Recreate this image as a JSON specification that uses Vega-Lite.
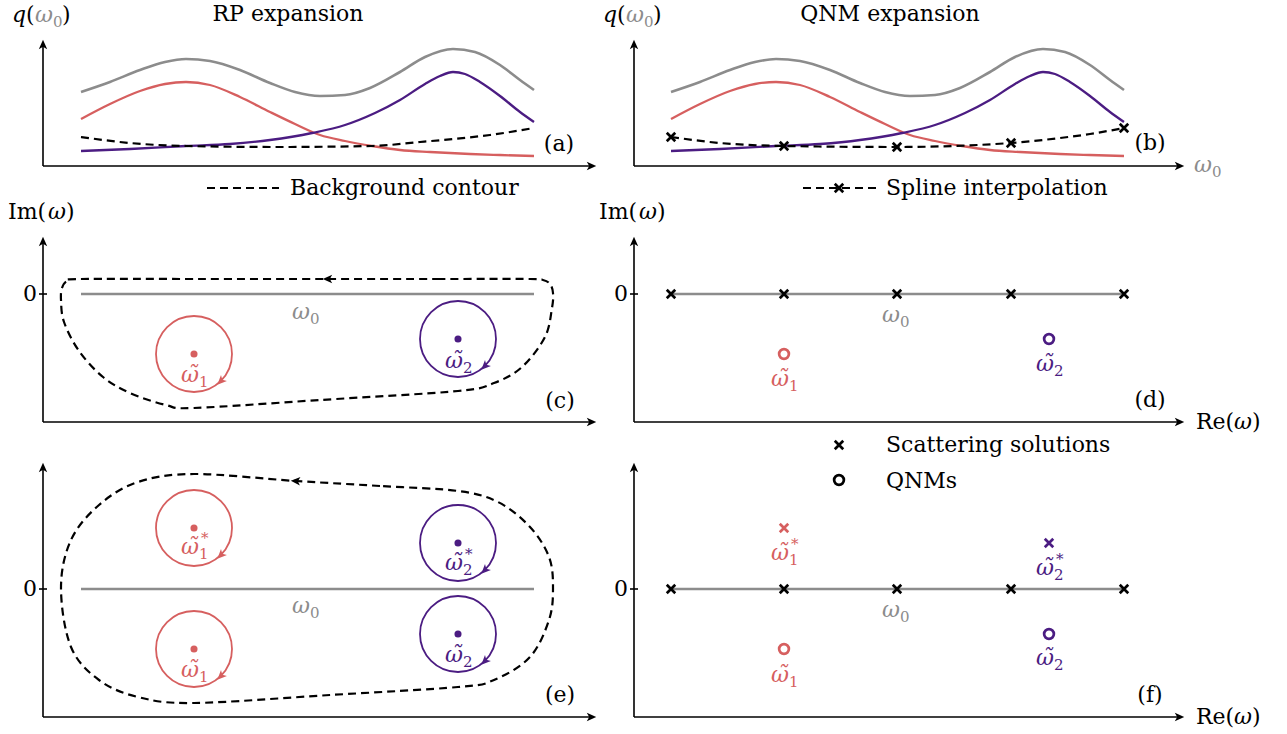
{
  "$schema": "https://vega.github.io/schema/vega-lite/v6.json",
  "width": 1287,
  "height": 734,
  "autosize": {"type": "fit", "contains": "padding"},
  "padding": 0,
  "background": "white",
  "config": {"view": {"stroke": null}, "text": {"font": "DejaVu Serif"}},
  "datasets": {
    "curves": [
      {"p":"a","s":"q","x":81,"y":92},{"p":"a","s":"q","x":110,"y":82},{"p":"a","s":"q","x":140,"y":70},{"p":"a","s":"q","x":165,"y":62},{"p":"a","s":"q","x":186,"y":59},{"p":"a","s":"q","x":210,"y":61},{"p":"a","s":"q","x":240,"y":70},{"p":"a","s":"q","x":270,"y":83},{"p":"a","s":"q","x":295,"y":92},{"p":"a","s":"q","x":320,"y":96},{"p":"a","s":"q","x":345,"y":95},{"p":"a","s":"q","x":370,"y":88},{"p":"a","s":"q","x":400,"y":72},{"p":"a","s":"q","x":425,"y":57},{"p":"a","s":"q","x":453,"y":49},{"p":"a","s":"q","x":475,"y":52},{"p":"a","s":"q","x":500,"y":65},{"p":"a","s":"q","x":520,"y":80},{"p":"a","s":"q","x":534,"y":90},
      {"p":"a","s":"m1","x":81,"y":119},{"p":"a","s":"m1","x":110,"y":104},{"p":"a","s":"m1","x":140,"y":91},{"p":"a","s":"m1","x":165,"y":84},{"p":"a","s":"m1","x":186,"y":82},{"p":"a","s":"m1","x":210,"y":85},{"p":"a","s":"m1","x":240,"y":97},{"p":"a","s":"m1","x":270,"y":112},{"p":"a","s":"m1","x":295,"y":124},{"p":"a","s":"m1","x":320,"y":135},{"p":"a","s":"m1","x":345,"y":141},{"p":"a","s":"m1","x":372,"y":146},{"p":"a","s":"m1","x":400,"y":150},{"p":"a","s":"m1","x":430,"y":152},{"p":"a","s":"m1","x":470,"y":154},{"p":"a","s":"m1","x":500,"y":155},{"p":"a","s":"m1","x":534,"y":156},
      {"p":"a","s":"m2","x":81,"y":151},{"p":"a","s":"m2","x":130,"y":149},{"p":"a","s":"m2","x":186,"y":146},{"p":"a","s":"m2","x":230,"y":144},{"p":"a","s":"m2","x":270,"y":140},{"p":"a","s":"m2","x":312,"y":133},{"p":"a","s":"m2","x":345,"y":125},{"p":"a","s":"m2","x":375,"y":113},{"p":"a","s":"m2","x":400,"y":100},{"p":"a","s":"m2","x":425,"y":84},{"p":"a","s":"m2","x":440,"y":76},{"p":"a","s":"m2","x":453,"y":72},{"p":"a","s":"m2","x":465,"y":74},{"p":"a","s":"m2","x":480,"y":82},{"p":"a","s":"m2","x":500,"y":96},{"p":"a","s":"m2","x":520,"y":112},{"p":"a","s":"m2","x":534,"y":122},
      {"p":"a","s":"bg","x":81,"y":137},{"p":"a","s":"bg","x":130,"y":143},{"p":"a","s":"bg","x":186,"y":146},{"p":"a","s":"bg","x":277,"y":147},{"p":"a","s":"bg","x":372,"y":146},{"p":"a","s":"bg","x":420,"y":142},{"p":"a","s":"bg","x":453,"y":139},{"p":"a","s":"bg","x":490,"y":135},{"p":"a","s":"bg","x":534,"y":128},
      {"p":"b","s":"q","x":671,"y":92},{"p":"b","s":"q","x":700,"y":82},{"p":"b","s":"q","x":730,"y":70},{"p":"b","s":"q","x":755,"y":62},{"p":"b","s":"q","x":776,"y":59},{"p":"b","s":"q","x":800,"y":61},{"p":"b","s":"q","x":830,"y":70},{"p":"b","s":"q","x":860,"y":83},{"p":"b","s":"q","x":885,"y":92},{"p":"b","s":"q","x":910,"y":96},{"p":"b","s":"q","x":935,"y":95},{"p":"b","s":"q","x":960,"y":88},{"p":"b","s":"q","x":990,"y":72},{"p":"b","s":"q","x":1015,"y":57},{"p":"b","s":"q","x":1043,"y":49},{"p":"b","s":"q","x":1065,"y":52},{"p":"b","s":"q","x":1090,"y":65},{"p":"b","s":"q","x":1110,"y":80},{"p":"b","s":"q","x":1124,"y":90},
      {"p":"b","s":"m1","x":671,"y":119},{"p":"b","s":"m1","x":700,"y":104},{"p":"b","s":"m1","x":730,"y":91},{"p":"b","s":"m1","x":755,"y":84},{"p":"b","s":"m1","x":776,"y":82},{"p":"b","s":"m1","x":800,"y":85},{"p":"b","s":"m1","x":830,"y":97},{"p":"b","s":"m1","x":860,"y":112},{"p":"b","s":"m1","x":885,"y":124},{"p":"b","s":"m1","x":910,"y":135},{"p":"b","s":"m1","x":935,"y":141},{"p":"b","s":"m1","x":962,"y":146},{"p":"b","s":"m1","x":990,"y":150},{"p":"b","s":"m1","x":1020,"y":152},{"p":"b","s":"m1","x":1060,"y":154},{"p":"b","s":"m1","x":1090,"y":155},{"p":"b","s":"m1","x":1124,"y":156},
      {"p":"b","s":"m2","x":671,"y":151},{"p":"b","s":"m2","x":720,"y":149},{"p":"b","s":"m2","x":776,"y":146},{"p":"b","s":"m2","x":820,"y":144},{"p":"b","s":"m2","x":860,"y":140},{"p":"b","s":"m2","x":902,"y":133},{"p":"b","s":"m2","x":935,"y":125},{"p":"b","s":"m2","x":965,"y":113},{"p":"b","s":"m2","x":990,"y":100},{"p":"b","s":"m2","x":1015,"y":84},{"p":"b","s":"m2","x":1030,"y":76},{"p":"b","s":"m2","x":1043,"y":72},{"p":"b","s":"m2","x":1055,"y":74},{"p":"b","s":"m2","x":1070,"y":82},{"p":"b","s":"m2","x":1090,"y":96},{"p":"b","s":"m2","x":1110,"y":112},{"p":"b","s":"m2","x":1124,"y":122},
      {"p":"b","s":"bg","x":671,"y":137},{"p":"b","s":"bg","x":720,"y":143},{"p":"b","s":"bg","x":784,"y":146},{"p":"b","s":"bg","x":897,"y":147},{"p":"b","s":"bg","x":1011,"y":143},{"p":"b","s":"bg","x":1060,"y":138},{"p":"b","s":"bg","x":1090,"y":134},{"p":"b","s":"bg","x":1124,"y":128}
    ],
    "axes": [
      {"x":43,"y":166,"x2":43,"y2":42},{"x":43,"y":166,"x2":593,"y2":166},
      {"x":634,"y":166,"x2":634,"y2":42},{"x":634,"y":166,"x2":1181,"y2":166},
      {"x":43,"y":422,"x2":43,"y2":239},{"x":43,"y":422,"x2":593,"y2":422},{"x":39,"y":294,"x2":47,"y2":294},
      {"x":634,"y":422,"x2":634,"y2":239},{"x":634,"y":422,"x2":1181,"y2":422},{"x":630,"y":294,"x2":638,"y2":294},
      {"x":43,"y":717,"x2":43,"y2":465},{"x":43,"y":717,"x2":593,"y2":717},{"x":39,"y":589,"x2":47,"y2":589},
      {"x":634,"y":717,"x2":634,"y2":465},{"x":634,"y":717,"x2":1181,"y2":717},{"x":630,"y":589,"x2":638,"y2":589}
    ],
    "heads": [
      {"x":43,"y":45,"dir":"up"},{"x":634,"y":45,"dir":"up"},{"x":43,"y":242,"dir":"up"},{"x":634,"y":242,"dir":"up"},{"x":43,"y":468,"dir":"up"},{"x":634,"y":468,"dir":"up"},
      {"x":591,"y":166,"dir":"right"},{"x":1179,"y":166,"dir":"right"},{"x":591,"y":422,"dir":"right"},{"x":1179,"y":422,"dir":"right"},{"x":591,"y":717,"dir":"right"},{"x":1179,"y":717,"dir":"right"},
      {"x":328,"y":279,"dir":"left"},{"x":296,"y":481,"dir":"leftup"}
    ],
    "cheads": [
      {"x":221,"y":381,"s":"m1"},{"x":485,"y":366,"s":"m2"},{"x":221,"y":555,"s":"m1"},{"x":221,"y":676,"s":"m1"},{"x":485,"y":570,"s":"m2"},{"x":485,"y":661,"s":"m2"}
    ],
    "w0lines": [
      {"x":81,"x2":534,"y":294},{"x":671,"x2":1124,"y":294},{"x":81,"x2":534,"y":589},{"x":671,"x2":1124,"y":589}
    ],
    "legdash": [
      {"x":207,"x2":279,"y":188},{"x":803,"x2":877,"y":188}
    ],
    "contours": [
      {"p":"c","i":1,"x":530,"y":279},{"p":"c","i":2,"x":440,"y":279},{"p":"c","i":3,"x":328,"y":279},{"p":"c","i":4,"x":200,"y":279},{"p":"c","i":5,"x":80,"y":279},{"p":"c","i":6,"x":67,"y":281},{"p":"c","i":7,"x":62,"y":288},{"p":"c","i":8,"x":61,"y":300},{"p":"c","i":9,"x":64,"y":322},{"p":"c","i":10,"x":79,"y":351},{"p":"c","i":11,"x":103,"y":377},{"p":"c","i":12,"x":130,"y":393},{"p":"c","i":13,"x":166,"y":405},{"p":"c","i":14,"x":194,"y":408},{"p":"c","i":15,"x":320,"y":400},{"p":"c","i":16,"x":458,"y":391},{"p":"c","i":17,"x":494,"y":383},{"p":"c","i":18,"x":522,"y":367},{"p":"c","i":19,"x":545,"y":337},{"p":"c","i":20,"x":552,"y":308},{"p":"c","i":21,"x":553,"y":293},{"p":"c","i":22,"x":550,"y":284},{"p":"c","i":23,"x":543,"y":280},
      {"p":"e","i":1,"x":458,"y":491},{"p":"e","i":2,"x":380,"y":486},{"p":"e","i":3,"x":296,"y":481},{"p":"e","i":4,"x":194,"y":474},{"p":"e","i":5,"x":138,"y":482},{"p":"e","i":6,"x":99,"y":505},{"p":"e","i":7,"x":71,"y":540},{"p":"e","i":8,"x":61,"y":588},{"p":"e","i":9,"x":71,"y":647},{"p":"e","i":10,"x":99,"y":680},{"p":"e","i":11,"x":138,"y":697},{"p":"e","i":12,"x":194,"y":703},{"p":"e","i":13,"x":330,"y":695},{"p":"e","i":14,"x":458,"y":687},{"p":"e","i":15,"x":494,"y":680},{"p":"e","i":16,"x":530,"y":657},{"p":"e","i":17,"x":549,"y":620},{"p":"e","i":18,"x":553,"y":588},{"p":"e","i":19,"x":549,"y":557},{"p":"e","i":20,"x":530,"y":527},{"p":"e","i":21,"x":498,"y":502}
    ],
    "circles": [
      {"x":194,"y":354,"s":"m1"},{"x":458,"y":339,"s":"m2"},{"x":194,"y":528,"s":"m1"},{"x":194,"y":649,"s":"m1"},{"x":458,"y":543,"s":"m2"},{"x":458,"y":634,"s":"m2"}
    ],
    "crosses": [
      {"x":671,"y":137,"s":"bg"},{"x":784,"y":146,"s":"bg"},{"x":897,"y":147,"s":"bg"},{"x":1011,"y":143,"s":"bg"},{"x":1124,"y":128,"s":"bg"},{"x":839,"y":188,"s":"bg"},
      {"x":671,"y":294,"s":"bg"},{"x":784,"y":294,"s":"bg"},{"x":897,"y":294,"s":"bg"},{"x":1011,"y":294,"s":"bg"},{"x":1124,"y":294,"s":"bg"},
      {"x":671,"y":589,"s":"bg"},{"x":784,"y":589,"s":"bg"},{"x":897,"y":589,"s":"bg"},{"x":1011,"y":589,"s":"bg"},{"x":1124,"y":589,"s":"bg"},
      {"x":784,"y":528,"s":"m1"},{"x":1049,"y":543,"s":"m2"},{"x":839,"y":445,"s":"bg"}
    ],
    "qnms": [
      {"x":784,"y":354,"s":"m1"},{"x":1049,"y":339,"s":"m2"},{"x":784,"y":649,"s":"m1"},{"x":1049,"y":634,"s":"m2"},{"x":839,"y":480,"s":"bg"}
    ],
    "tcenter": [
      {"x":288,"y":14,"t":"RP expansion"},{"x":890,"y":14,"t":"QNM expansion"},
      {"x":559,"y":144,"t":"(a)"},{"x":1150,"y":143,"t":"(b)"},{"x":560,"y":401,"t":"(c)"},{"x":1150,"y":400,"t":"(d)"},{"x":560,"y":695,"t":"(e)"},{"x":1150,"y":695,"t":"(f)"},
      {"x":30,"y":294,"t":"0"},{"x":621,"y":294,"t":"0"},{"x":30,"y":589,"t":"0"},{"x":621,"y":589,"t":"0"}
    ],
    "tleft": [
      {"x":290,"y":188,"t":"Background contour"},{"x":886,"y":188,"t":"Spline interpolation"},{"x":886,"y":445,"t":"Scattering solutions"},{"x":886,"y":481,"t":"QNMs"},
      {"x":26,"y":15,"t":"("},{"x":62,"y":15,"t":")"},{"x":617,"y":15,"t":"("},{"x":653,"y":15,"t":")"},
      {"x":8,"y":212,"t":"Im("},{"x":66,"y":212,"t":")"},{"x":599,"y":212,"t":"Im("},{"x":657,"y":212,"t":")"},
      {"x":1196,"y":422,"t":"Re("},{"x":1252,"y":422,"t":")"},{"x":1196,"y":717,"t":"Re("},{"x":1252,"y":717,"t":")"}
    ],
    "tital": [
      {"x":12,"y":15,"t":"q"},{"x":603,"y":15,"t":"q"},
      {"x":48,"y":212,"t":"ω"},{"x":639,"y":212,"t":"ω"},{"x":1234,"y":422,"t":"ω"},{"x":1234,"y":717,"t":"ω"}
    ],
    "syms": [
      {"x":48,"y":15,"m":"ω","sub":"0","sup":"","s":"w0"},{"x":639,"y":15,"m":"ω","sub":"0","sup":"","s":"w0"},
      {"x":1207,"y":165,"m":"ω","sub":"0","sup":"","s":"w0"},
      {"x":305,"y":312,"m":"ω","sub":"0","sup":"","s":"w0"},{"x":895,"y":315,"m":"ω","sub":"0","sup":"","s":"w0"},{"x":305,"y":606,"m":"ω","sub":"0","sup":"","s":"w0"},{"x":895,"y":610,"m":"ω","sub":"0","sup":"","s":"w0"},
      {"x":194,"y":375,"m":"ω̃","sub":"1","sup":"","s":"m1"},{"x":458,"y":361,"m":"ω̃","sub":"2","sup":"","s":"m2"},
      {"x":784,"y":379,"m":"ω̃","sub":"1","sup":"","s":"m1"},{"x":1049,"y":364,"m":"ω̃","sub":"2","sup":"","s":"m2"},
      {"x":194,"y":547,"m":"ω̃","sub":"1","sup":"*","s":"m1"},{"x":194,"y":670,"m":"ω̃","sub":"1","sup":"","s":"m1"},{"x":458,"y":563,"m":"ω̃","sub":"2","sup":"*","s":"m2"},{"x":458,"y":655,"m":"ω̃","sub":"2","sup":"","s":"m2"},
      {"x":784,"y":553,"m":"ω̃","sub":"1","sup":"*","s":"m1"},{"x":1049,"y":568,"m":"ω̃","sub":"2","sup":"*","s":"m2"},{"x":784,"y":675,"m":"ω̃","sub":"1","sup":"","s":"m1"},{"x":1049,"y":658,"m":"ω̃","sub":"2","sup":"","s":"m2"}
    ]
  },
  "encoding": {
    "x": {"field": "x", "type": "quantitative", "scale": {"domain": [0, 1287], "nice": false, "zero": false}, "axis": null},
    "y": {"field": "y", "type": "quantitative", "scale": {"domain": [0, 734], "nice": false, "zero": false, "reverse": true}, "axis": null}
  },
  "layer": [
    {
      "data": {"name": "w0lines"},
      "mark": {"type": "rule", "strokeWidth": 2.6, "color": "#8c8c8c"},
      "encoding": {"x2": {"field": "x2"}}
    },
    {
      "data": {"name": "axes"},
      "mark": {"type": "rule", "strokeWidth": 1.6, "color": "#000000"},
      "encoding": {"x2": {"field": "x2"}, "y2": {"field": "y2"}}
    },
    {
      "data": {"name": "legdash"},
      "mark": {"type": "rule", "strokeWidth": 2.2, "color": "#000000", "strokeDash": [8, 5]},
      "encoding": {"x2": {"field": "x2"}}
    },
    {
      "data": {"name": "curves"},
      "transform": [{"filter": "datum.s === 'q'"}],
      "mark": {"type": "line", "interpolate": "monotone", "strokeWidth": 2.6},
      "encoding": {
        "detail": {"field": "p"},
        "color": {"field": "s", "type": "nominal", "scale": {"domain": ["q", "m1", "m2", "bg", "w0"], "range": ["#8c8c8c", "#d65f5f", "#4b1c82", "#000000", "#8c8c8c"]}, "legend": null}
      }
    },
    {
      "data": {"name": "curves"},
      "transform": [{"filter": "datum.s === 'm1' || datum.s === 'm2'"}],
      "mark": {"type": "line", "interpolate": "monotone", "strokeWidth": 2.3},
      "encoding": {
        "detail": {"field": "p"},
        "color": {"field": "s", "type": "nominal", "scale": {"domain": ["q", "m1", "m2", "bg", "w0"], "range": ["#8c8c8c", "#d65f5f", "#4b1c82", "#000000", "#8c8c8c"]}, "legend": null}
      }
    },
    {
      "data": {"name": "curves"},
      "transform": [{"filter": "datum.s === 'bg'"}],
      "mark": {"type": "line", "interpolate": "monotone", "strokeWidth": 2.2, "color": "#000000", "strokeDash": [8, 5]},
      "encoding": {"detail": {"field": "p"}}
    },
    {
      "data": {"name": "contours"},
      "mark": {"type": "line", "interpolate": "cardinal-closed", "strokeWidth": 2.2, "color": "#000000", "strokeDash": [8, 5]},
      "encoding": {"detail": {"field": "p"}, "order": {"field": "i", "type": "quantitative"}}
    },
    {
      "data": {"name": "circles"},
      "mark": {"type": "point", "shape": "circle", "filled": false, "size": 5776, "strokeWidth": 1.8, "opacity": 1},
      "encoding": {
        "color": {"field": "s", "type": "nominal", "scale": {"domain": ["q", "m1", "m2", "bg", "w0"], "range": ["#8c8c8c", "#d65f5f", "#4b1c82", "#000000", "#8c8c8c"]}, "legend": null}
      }
    },
    {
      "data": {"name": "circles"},
      "mark": {"type": "point", "shape": "circle", "filled": true, "size": 50, "opacity": 1},
      "encoding": {
        "color": {"field": "s", "type": "nominal", "scale": {"domain": ["q", "m1", "m2", "bg", "w0"], "range": ["#8c8c8c", "#d65f5f", "#4b1c82", "#000000", "#8c8c8c"]}, "legend": null}
      }
    },
    {
      "data": {"name": "cheads"},
      "mark": {"type": "point", "shape": "M0,-1L0.8,0.8L0,0.35L-0.8,0.8Z", "filled": true, "size": 110, "angle": 225, "opacity": 1},
      "encoding": {
        "color": {"field": "s", "type": "nominal", "scale": {"domain": ["q", "m1", "m2", "bg", "w0"], "range": ["#8c8c8c", "#d65f5f", "#4b1c82", "#000000", "#8c8c8c"]}, "legend": null}
      }
    },
    {
      "data": {"name": "heads"},
      "transform": [{"filter": "datum.dir === 'up'"}],
      "mark": {"type": "point", "shape": "M0,-1L0.8,0.8L0,0.35L-0.8,0.8Z", "filled": true, "size": 110, "angle": 0, "color": "#000000", "opacity": 1}
    },
    {
      "data": {"name": "heads"},
      "transform": [{"filter": "datum.dir === 'right'"}],
      "mark": {"type": "point", "shape": "M0,-1L0.8,0.8L0,0.35L-0.8,0.8Z", "filled": true, "size": 110, "angle": 90, "color": "#000000", "opacity": 1}
    },
    {
      "data": {"name": "heads"},
      "transform": [{"filter": "datum.dir === 'left'"}],
      "mark": {"type": "point", "shape": "M0,-1L0.8,0.8L0,0.35L-0.8,0.8Z", "filled": true, "size": 110, "angle": 270, "color": "#000000", "opacity": 1}
    },
    {
      "data": {"name": "heads"},
      "transform": [{"filter": "datum.dir === 'leftup'"}],
      "mark": {"type": "point", "shape": "M0,-1L0.8,0.8L0,0.35L-0.8,0.8Z", "filled": true, "size": 110, "angle": 274, "color": "#000000", "opacity": 1}
    },
    {
      "data": {"name": "crosses"},
      "mark": {"type": "point", "shape": "M-1,-1L1,1M-1,1L1,-1", "filled": false, "size": 72, "strokeWidth": 2.7, "opacity": 1},
      "encoding": {
        "color": {"field": "s", "type": "nominal", "scale": {"domain": ["q", "m1", "m2", "bg", "w0"], "range": ["#8c8c8c", "#d65f5f", "#4b1c82", "#000000", "#8c8c8c"]}, "legend": null}
      }
    },
    {
      "data": {"name": "qnms"},
      "mark": {"type": "point", "shape": "circle", "filled": false, "size": 95, "strokeWidth": 2.7, "opacity": 1},
      "encoding": {
        "color": {"field": "s", "type": "nominal", "scale": {"domain": ["q", "m1", "m2", "bg", "w0"], "range": ["#8c8c8c", "#d65f5f", "#4b1c82", "#000000", "#8c8c8c"]}, "legend": null}
      }
    },
    {
      "data": {"name": "tcenter"},
      "mark": {"type": "text", "font": "DejaVu Serif", "fontSize": 22, "align": "center", "baseline": "middle", "color": "#000000"},
      "encoding": {"text": {"field": "t"}}
    },
    {
      "data": {"name": "tleft"},
      "mark": {"type": "text", "font": "DejaVu Serif", "fontSize": 22, "align": "left", "baseline": "middle", "color": "#000000"},
      "encoding": {"text": {"field": "t"}}
    },
    {
      "data": {"name": "tital"},
      "mark": {"type": "text", "font": "DejaVu Serif", "fontSize": 22, "fontStyle": "italic", "align": "left", "baseline": "middle", "color": "#000000"},
      "encoding": {"text": {"field": "t"}}
    },
    {
      "data": {"name": "syms"},
      "mark": {"type": "text", "font": "DejaVu Serif", "fontSize": 22, "fontStyle": "italic", "align": "center", "baseline": "middle", "dx": -4},
      "encoding": {
        "text": {"field": "m"},
        "color": {"field": "s", "type": "nominal", "scale": {"domain": ["q", "m1", "m2", "bg", "w0"], "range": ["#8c8c8c", "#d65f5f", "#4b1c82", "#000000", "#8c8c8c"]}, "legend": null}
      }
    },
    {
      "data": {"name": "syms"},
      "mark": {"type": "text", "font": "DejaVu Serif", "fontSize": 15, "align": "left", "baseline": "middle", "dx": 5, "dy": 7},
      "encoding": {
        "text": {"field": "sub"},
        "color": {"field": "s", "type": "nominal", "scale": {"domain": ["q", "m1", "m2", "bg", "w0"], "range": ["#8c8c8c", "#d65f5f", "#4b1c82", "#000000", "#8c8c8c"]}, "legend": null}
      }
    },
    {
      "data": {"name": "syms"},
      "transform": [{"filter": "datum.sup !== ''"}],
      "mark": {"type": "text", "font": "DejaVu Serif", "fontSize": 15, "align": "left", "baseline": "middle", "dx": 7, "dy": -9},
      "encoding": {
        "text": {"field": "sup"},
        "color": {"field": "s", "type": "nominal", "scale": {"domain": ["q", "m1", "m2", "bg", "w0"], "range": ["#8c8c8c", "#d65f5f", "#4b1c82", "#000000", "#8c8c8c"]}, "legend": null}
      }
    }
  ]
}
